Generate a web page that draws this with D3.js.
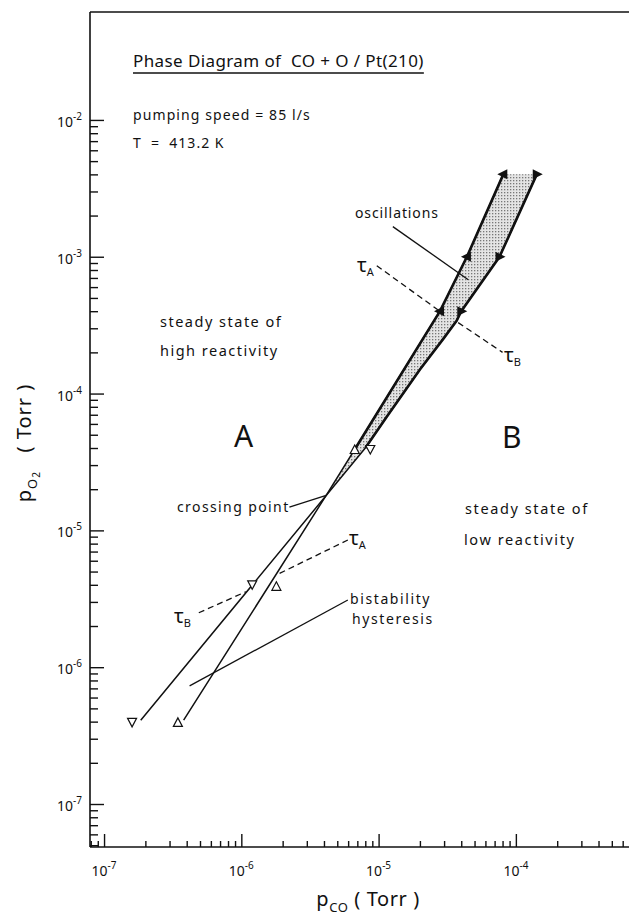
<!DOCTYPE html>
<html>
<head>
<meta charset="utf-8">
<script src="https://cdn.jsdelivr.net/npm/d3@7"></script>
<style>
  body { margin: 0; background: #fff; }
  text { font-family: "Noto Sans", sans-serif; fill: #111; }
</style>
</head>
<body>
<div id="chart-area"></div>
<script>
// tick values / labels
const xMajor = [1e-7, 1e-6, 1e-5, 1e-4]
const xMajorLabels = ["-7", "-6", "-5", "-4"]
const yMajor = [1e-7, 1e-6, 1e-5, 1e-4, 1e-3, 1e-2]
const yMajorLabels = ["-7", "-6", "-5", "-4", "-3", "-2"]

// tau_A boundary (steep line, up-triangles), [pCO, pO2]
const lineA = [[3.8e-7, 4.1e-7], [4.15e-6, 1.8e-5], [6.8e-6, 4e-5], [2.8e-5, 4e-4], [4.4e-5, 1e-3], [8.1e-5, 4e-3]]
// tau_B boundary (flatter line, down-triangles)
const lineB = [[1.85e-7, 4.1e-7], [4.15e-6, 1.8e-5], [8.0e-6, 4e-5], [1.15e-5, 6.8e-5], [2.0e-5, 1.5e-4],
               [2.95e-5, 2.5e-4], [3.7e-5, 3.4e-4], [4.0e-5, 4e-4], [7.6e-5, 1e-3], [1.42e-4, 4e-3]]
const crossing = [4.15e-6, 1.8e-5]

// measured points
const downTri = [[1.6e-7, 3.95e-7], [1.2e-6, 4e-6], [8.7e-6, 3.9e-5]]
const upTri = [[3.45e-7, 3.95e-7], [1.8e-6, 3.9e-6], [6.7e-6, 3.9e-5]]
const arrowsLeft = [[2.8e-5, 4e-4], [4.4e-5, 1e-3], [8.1e-5, 4e-3]]
const arrowsRight = [[4.0e-5, 4e-4], [7.6e-5, 1e-3], [1.42e-4, 4e-3]]

// dashed tau lines
const dashed = [
  [[9.7e-6, 8.6e-4], [2.7e-5, 4.1e-4]],
  [[3.8e-5, 3.3e-4], [8.0e-5, 2.0e-4]],
  [[1.9e-6, 4.85e-6], [5.97e-6, 8.5e-6]],
  [[4.9e-7, 2.5e-6], [1.08e-6, 3.56e-6]]
]
// label pointer lines
const pointers = [
  [[1.27e-5, 1.66e-3], [4.5e-5, 6.8e-4]],
  [[2.24e-6, 1.48e-5], [4.15e-6, 1.8e-5]],
  [[5.97e-6, 3.1e-6], [4.2e-7, 7.3e-7]]
]

const svg = d3.select("#chart-area")
  .append("svg")
  .attr("width", 629)
  .attr("height", 923)

const x = d3.scaleLog()
  .domain([7.9e-8, 6.67e-4])
  .range([90, 629])

const y = d3.scaleLog()
  .domain([4.85e-8, 6.15e-2])
  .range([847, 12])

// stipple pattern for oscillation band
const pat = svg.append("defs").append("pattern")
  .attr("id", "stipple")
  .attr("width", 3).attr("height", 3)
  .attr("patternUnits", "userSpaceOnUse")
pat.append("rect").attr("width", 3).attr("height", 3).attr("fill", "#e4e4e4")
pat.append("rect").attr("width", 1.3).attr("height", 1.3).attr("fill", "#777")

// frame
svg.append("line")
  .attr("x1", 90).attr("x2", 629).attr("y1", 12).attr("y2", 12)
  .attr("stroke", "#111").attr("stroke-width", 1.5)
svg.append("line")
  .attr("x1", 90).attr("x2", 629).attr("y1", 847).attr("y2", 847)
  .attr("stroke", "#111").attr("stroke-width", 1.6)
svg.append("line")
  .attr("x1", 90).attr("x2", 90).attr("y1", 12).attr("y2", 847)
  .attr("stroke", "#111").attr("stroke-width", 1.6)

// x ticks (pointing up)
const xMinor = x.ticks().filter(d => !xMajor.some(m => Math.abs(m - d) / m < 1e-6))
function tickAxis(axis, vals, size, tx, ty) {
  const g = svg.append("g")
    .attr("transform", `translate(${tx}, ${ty})`)
    .call(axis.tickValues(vals).tickSize(size).tickFormat(""))
  g.select(".domain").remove()
  g.selectAll("line").attr("stroke", "#111").attr("stroke-width", 1.4)
}
tickAxis(d3.axisTop(x), xMajor, 13, 0, 847)
tickAxis(d3.axisTop(x), xMinor, 6, 0, 847)

// y ticks (pointing right), none above 1e-2
const yMinor = y.ticks().filter(d => d < 1e-2 && !yMajor.some(m => Math.abs(m - d) / m < 1e-6))
tickAxis(d3.axisRight(y), yMajor, 14, 90, 0)
tickAxis(d3.axisRight(y), yMinor, 8, 90, 0)

// tick labels
xMajor.forEach((v, i) => {
  const t = svg.append("text")
    .attr("x", x(v)).attr("y", 876)
    .attr("text-anchor", "middle")
    .attr("font-size", 14)
  t.append("tspan").text("10")
  t.append("tspan").attr("font-size", 10).attr("dy", -7).text(xMajorLabels[i])
})
yMajor.forEach((v, i) => {
  const t = svg.append("text")
    .attr("x", 82).attr("y", y(v) + 7)
    .attr("text-anchor", "end")
    .attr("font-size", 14)
  t.append("tspan").text("10")
  t.append("tspan").attr("font-size", 10).attr("dy", -7).text(yMajorLabels[i])
})

// axis labels
const xl = svg.append("text")
  .attr("x", 368).attr("y", 906)
  .attr("text-anchor", "middle")
  .attr("font-size", 20)
  .attr("letter-spacing", 0.6)
  .style("white-space", "pre")
xl.append("tspan").text("p")
xl.append("tspan").attr("font-size", 13).attr("dy", 6).text("CO")
xl.append("tspan").attr("dy", -6).text(" ( Torr )")

const yl = svg.append("text")
  .attr("transform", "translate(31, 443) rotate(-90)")
  .attr("text-anchor", "middle")
  .attr("font-size", 20)
  .attr("letter-spacing", 1)
  .style("white-space", "pre")
yl.append("tspan").text("p")
yl.append("tspan").attr("font-size", 13).attr("dy", 6).text("O")
yl.append("tspan").attr("font-size", 10).attr("dy", 3).text("2")
yl.append("tspan").attr("dy", -9).text("   ( Torr )")

const line = d3.line().x(d => x(d[0])).y(d => y(d[1]))

// band between the two boundaries above the crossing point
const upperA = lineA.filter(d => d[1] >= crossing[1])
const upperB = lineB.filter(d => d[1] >= crossing[1])
svg.append("path")
  .attr("d", line(upperA.concat(upperB.slice().reverse())) + "Z")
  .attr("fill", "url(#stipple)")
  .attr("stroke", "none")

// boundaries
;[lineA, lineB].forEach(l => {
  svg.append("path")
    .attr("d", line(l))
    .attr("fill", "none")
    .attr("stroke", "#111")
    .attr("stroke-width", 1.5)
  svg.append("path")
    .attr("d", line(l.filter(d => d[1] >= 4e-5)))
    .attr("fill", "none")
    .attr("stroke", "#111")
    .attr("stroke-width", 2.6)
})

// dashed tau lines
dashed.forEach(l => {
  svg.append("path")
    .attr("d", line(l))
    .attr("fill", "none")
    .attr("stroke", "#111")
    .attr("stroke-width", 1.3)
    .attr("stroke-dasharray", "6,4")
})

// pointers
pointers.forEach(l => {
  svg.append("path")
    .attr("d", line(l))
    .attr("fill", "none")
    .attr("stroke", "#111")
    .attr("stroke-width", 1.3)
})

// open triangles
svg.selectAll(".tri-down")
  .data(downTri)
  .enter().append("path")
  .attr("class", "tri-down")
  .attr("transform", d => `translate(${x(d[0])}, ${y(d[1])})`)
  .attr("d", "M-4.5,-4 L4.5,-4 L0,4.5 Z")
  .attr("fill", "#fff").attr("stroke", "#111").attr("stroke-width", 1.2)
svg.selectAll(".tri-up")
  .data(upTri)
  .enter().append("path")
  .attr("class", "tri-up")
  .attr("transform", d => `translate(${x(d[0])}, ${y(d[1])})`)
  .attr("d", "M-4.5,4 L4.5,4 L0,-4.5 Z")
  .attr("fill", "#fff").attr("stroke", "#111").attr("stroke-width", 1.2)

// filled arrow heads
svg.selectAll(".arr-l")
  .data(arrowsLeft)
  .enter().append("path")
  .attr("class", "arr-l")
  .attr("transform", d => `translate(${x(d[0])}, ${y(d[1])})`)
  .attr("d", "M-6,0 L4,-5 L4,5 Z")
  .attr("fill", "#111")
svg.selectAll(".arr-r")
  .data(arrowsRight)
  .enter().append("path")
  .attr("class", "arr-r")
  .attr("transform", d => `translate(${x(d[0])}, ${y(d[1])})`)
  .attr("d", "M6,0 L-4,-5 L-4,5 Z")
  .attr("fill", "#111")

// texts
function label(txt, px, py, size, ls) {
  return svg.append("text")
    .attr("x", px).attr("y", py)
    .attr("font-size", size)
    .attr("letter-spacing", ls)
    .style("white-space", "pre")
    .text(txt)
}
const title = label("Phase Diagram of  CO + O / Pt(210)", 133, 67, 17, 0.4)
const tw = title.node().getComputedTextLength()
svg.append("line")
  .attr("x1", 133).attr("x2", 133 + tw).attr("y1", 73).attr("y2", 73)
  .attr("stroke", "#111").attr("stroke-width", 1.3)

label("pumping speed = 85 l/s", 133, 120, 14, 1.1)
label("T  =  413.2 K", 133, 148, 14, 1.0)
label("oscillations", 355, 218, 14, 0.9)
label("steady state of", 160, 327, 14.5, 1.5)
label("high reactivity", 160, 356, 14.5, 1.5)
label("steady state of", 465, 514, 14.5, 1.6)
label("low reactivity", 464, 545, 14.5, 1.6)
label("crossing point", 177, 512, 14, 1.4)
label("bistability", 350, 604, 14, 1.6)
label("hysteresis", 352, 624, 14, 1.6)
label("A", 234, 447, 30, 0)
label("B", 502, 448, 30, 0)

function tau(sub, px, py) {
  const t = svg.append("text").attr("x", px).attr("y", py).attr("font-size", 20)
  t.append("tspan").text("τ")
  t.append("tspan").attr("font-size", 11).attr("dy", 4).text(sub)
}
tau("A", 357, 272)
tau("B", 504, 362)
tau("A", 349, 545)
tau("B", 174, 623)
</script>
</body>
</html>
